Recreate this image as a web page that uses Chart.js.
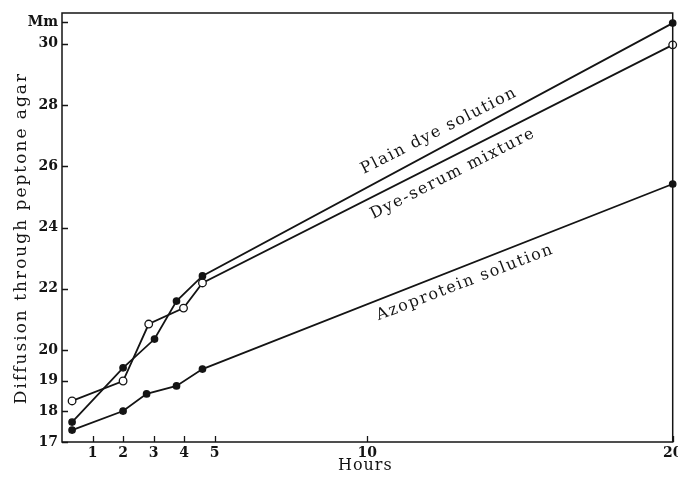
<!DOCTYPE html>
<html>
<head>
<meta charset="utf-8">
<script src="https://cdn.jsdelivr.net/npm/chart.js@4"></script>
<style>
  html, body { margin: 0; padding: 0; background: #fff; }
  #wrap { width: 678px; height: 480px; }
</style>
</head>
<body>
<div id="wrap"><canvas id="diffusionChart"></canvas></div>
<script>
// values (hours vs mm)
const plainHours = [0.33, 2, 3.03, 3.75, 4.6, 20];
const plainMm = [17.65, 19.42, 20.36, 21.6, 22.42, 30.67];
const serumHours = [0.33, 2, 2.84, 3.98, 4.6, 20];
const serumMm = [18.34, 18.99, 20.85, 21.37, 22.19, 29.96];
const azoHours = [0.33, 2, 2.77, 3.75, 4.6, 20];
const azoMm = [17.39, 18.01, 18.57, 18.83, 19.38, 25.42];

const seriesNames = ['Plain dye solution', 'Dye-serum mixture', 'Azoprotein solution'];
const xTicks = [1, 2, 3, 4, 5, 10, 20];
const yTicks = [17, 18, 19, 20, 22, 24, 26, 28, 30, 30.7];
const yTickLabels = ['17', '18', '19', '20', '22', '24', '26', '28', '30', 'Mm'];
const xTitle = 'Hours';
const yTitle = 'Diffusion through peptone agar';

const ink = '#141414';
const serif = "'DejaVu Serif', 'Liberation Serif', serif";

function toPoints(xs, ys) {
    return xs.map((x, i) => ({ x: x, y: ys[i] }));
}

// text on the curves, placed in data units
const curveLabels = [
    { text: seriesNames[0], x: 12.35, y: 27.15, angle: -27 },
    { text: seriesNames[1], x: 12.8, y: 25.75, angle: -27 },
    { text: seriesNames[2], x: 13.2, y: 22.2, angle: -21 }
];

function drawText(ctx, text, px, py, angle, font, spacing) {
    ctx.save();
    ctx.translate(px, py);
    ctx.rotate(angle * Math.PI / 180);
    ctx.font = font;
    ctx.letterSpacing = spacing;
    ctx.fillStyle = ink;
    ctx.textAlign = 'center';
    ctx.textBaseline = 'middle';
    ctx.fillText(text, 0, 0);
    ctx.restore();
}

const paperPlugin = {
    id: 'paper',
    afterDatasetsDraw(chart) {
        const ctx = chart.ctx;
        const area = chart.chartArea;
        const xs = chart.scales.x;
        const ys = chart.scales.y;

        // frame
        ctx.save();
        ctx.strokeStyle = ink;
        ctx.lineWidth = 1.5;
        ctx.strokeRect(area.left, area.top, area.right - area.left, area.bottom - area.top);

        // inward ticks
        ctx.lineWidth = 1.3;
        ctx.beginPath();
        xTicks.forEach(v => {
            const px = Math.round(xs.getPixelForValue(v)) + 0.5;
            ctx.moveTo(px, area.bottom);
            ctx.lineTo(px, area.bottom - 6);
        });
        yTicks.forEach(v => {
            const py = Math.round(ys.getPixelForValue(v)) + 0.5;
            ctx.moveTo(area.left, py);
            ctx.lineTo(area.left + 6, py);
        });
        ctx.stroke();
        ctx.restore();

        // curve names
        curveLabels.forEach(l => {
            drawText(ctx, l.text, xs.getPixelForValue(l.x), ys.getPixelForValue(l.y),
                l.angle, '16px ' + serif, '1.6px');
        });

        // axis titles
        drawText(ctx, xTitle, (area.left + area.right) / 2 - 2, 466, 0, '16px ' + serif, '1px');
        drawText(ctx, yTitle, 22, 238, -90, '17px ' + serif, '2px');
    }
};

const lineStyle = {
    borderColor: ink,
    borderWidth: 1.8,
    pointBorderColor: ink,
    pointBorderWidth: 1.3,
    tension: 0,
    clip: false
};

const ctx = document.getElementById('diffusionChart').getContext('2d');
new Chart(ctx, {
    type: 'line',
    data: {
        datasets: [
            Object.assign({
                label: seriesNames[0],
                data: toPoints(plainHours, plainMm),
                pointRadius: 3.2,
                pointBackgroundColor: ink
            }, lineStyle),
            Object.assign({
                label: seriesNames[1],
                data: toPoints(serumHours, serumMm),
                pointRadius: 3.8,
                pointBackgroundColor: '#fff'
            }, lineStyle),
            Object.assign({
                label: seriesNames[2],
                data: toPoints(azoHours, azoMm),
                pointRadius: 3.2,
                pointBackgroundColor: ink
            }, lineStyle)
        ]
    },
    options: {
        responsive: true,
        maintainAspectRatio: false,
        animation: false,
        layout: { padding: { left: 0, right: 5, top: 13, bottom: 0 } },
        plugins: {
            legend: { display: false },
            tooltip: { enabled: false }
        },
        scales: {
            x: {
                type: 'linear',
                min: 0,
                max: 20,
                grid: { display: false, drawTicks: false },
                border: { display: false },
                afterBuildTicks: scale => {
                    scale.ticks = xTicks.map(v => ({ value: v }));
                },
                afterFit: scale => {
                    scale.height = 38;
                    scale.paddingLeft = 0;
                    scale.paddingRight = 0;
                },
                ticks: {
                    autoSkip: false,
                    maxRotation: 0,
                    padding: 3,
                    color: ink,
                    font: { family: serif, size: 14, weight: 'bold' }
                }
            },
            y: {
                type: 'linear',
                min: 17,
                max: 31,
                grid: { display: false, drawTicks: false },
                border: { display: false },
                afterBuildTicks: scale => {
                    scale.ticks = yTicks.map(v => ({ value: v }));
                },
                afterFit: scale => {
                    scale.width = 62;
                    scale.paddingTop = 0;
                    scale.paddingBottom = 0;
                },
                ticks: {
                    autoSkip: false,
                    padding: 4,
                    color: ink,
                    font: { family: serif, size: 14, weight: 'bold' },
                    callback: (value, i) => yTickLabels[i]
                }
            }
        }
    },
    plugins: [paperPlugin]
});
</script>
</body>
</html>
